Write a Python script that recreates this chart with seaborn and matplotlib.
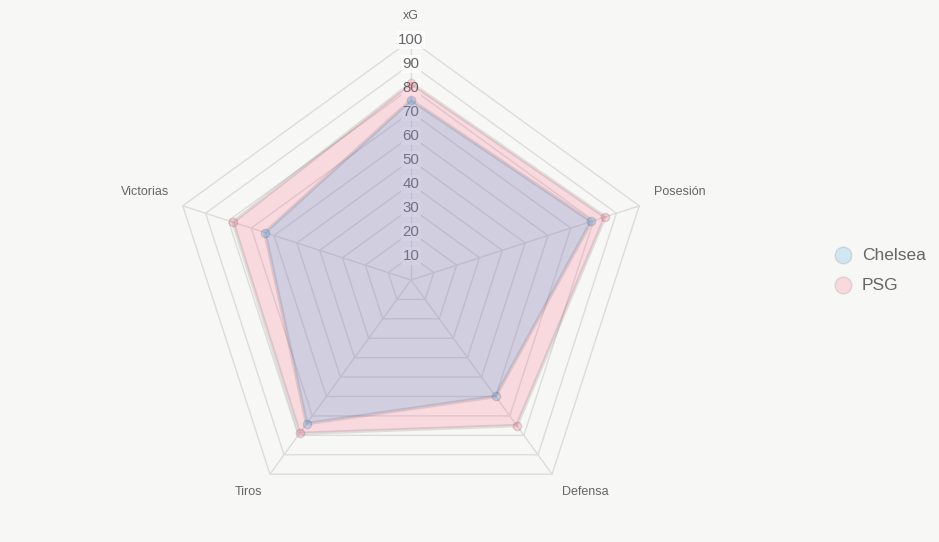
import numpy as np
import pandas as pd
import matplotlib
matplotlib.use("Agg")
import matplotlib.pyplot as plt
import matplotlib.transforms as mtransforms
from matplotlib.lines import Line2D
import seaborn as sns

# ---- data ----
categories = ["xG", "Posesión", "Defensa", "Tiros", "Victorias"]
chelsea = [75, 79, 60, 74, 64]
psg = [82, 85, 75, 79, 78]
teams = ["Chelsea", "PSG"]
ticks = [10, 20, 30, 40, 50, 60, 70, 80, 90, 100]

sns.set_style("white")
plt.rcParams["font.family"] = ["Liberation Sans", "DejaVu Sans"]

bg = "#f7f7f5"
grid_c = "#dcdcdc"
txt_c = "#666666"
blue = (54/255, 162/255, 235/255)
pink = (255/255, 99/255, 132/255)
fill_alpha = 0.2
edge_c = (0, 0, 0, 0.1)

fig = plt.figure(figsize=(9.39, 5.42), dpi=100, facecolor=bg)
ax = fig.add_axes([0.1821, 0.0406, 0.5112, 0.8856], projection="polar")
ax.set_theta_offset(np.pi / 2)
ax.set_theta_direction(-1)
ax.set_ylim(0, 100)
ax.set_axis_off()

n = len(categories)
angles = np.linspace(0, 2 * np.pi, n, endpoint=False)
closed = np.concatenate([angles, angles[:1]])

# grid pentagons
for v in ticks:
    ax.plot(closed, [v] * (n + 1), color=grid_c, lw=1, zorder=1, clip_on=False)
# angle lines
for a in angles:
    ax.plot([a, a], [0, 100], color=grid_c, lw=1, zorder=1, clip_on=False)

# tick labels with backdrop
for v in ticks:
    ax.text(0, v, str(v), ha="center", va="center", fontsize=10.8, color=txt_c,
            zorder=2, clip_on=False,
            bbox=dict(facecolor=(1, 1, 1, 0.75), edgecolor="none", pad=1.2))

# data areas (PSG below, Chelsea on top)
df = pd.DataFrame({
    "team": np.repeat(teams, n),
    "theta": np.tile(angles, 2),
    "value": chelsea + psg,
})
for team, col, z in [("PSG", pink, 3), ("Chelsea", blue, 4)]:
    sub = df[df.team == team]
    th = np.concatenate([sub.theta.values, sub.theta.values[:1]])
    rv = np.concatenate([sub.value.values, sub.value.values[:1]])
    ax.fill(th, rv, color=col, alpha=fill_alpha, lw=0, zorder=z)
    ax.plot(th, rv, color=edge_c, lw=2.5, zorder=z)
    sns.scatterplot(x=sub.theta.values, y=sub.value.values, ax=ax,
                    color=col + (0.25,), edgecolor=(0, 0, 0, 0.12), linewidth=1,
                    s=36, zorder=z + 2, legend=False, clip_on=False)

ax.set_ylim(0, 100)

# point labels
offsets = {
    "xG": (0, 24, "center"),
    "Posesión": (15, 14, "left"),
    "Defensa": (10, -18, "left"),
    "Tiros": (-8, -18, "right"),
    "Victorias": (-14, 14, "right"),
}
for a, cat in zip(angles, categories):
    dx, dy, ha = offsets[cat]
    tr = mtransforms.offset_copy(ax.transData, fig=fig, x=dx * 0.72, y=dy * 0.72, units="points")
    ax.text(a, 100, cat, transform=tr, ha=ha, va="center", fontsize=9,
            color=txt_c, clip_on=False)

# legend
for label, col, ypx in [("Chelsea", blue, 255), ("PSG", pink, 285)]:
    yf = 1 - ypx / 542
    fig.add_artist(Line2D([843 / 939], [yf], marker="o", markersize=12,
                          markerfacecolor=col + (fill_alpha,),
                          markeredgecolor=(0, 0, 0, 0.1), markeredgewidth=1,
                          linestyle="none", transform=fig.transFigure))
    fig.text(862 / 939, yf, label, ha="left", va="center", fontsize=12.5, color=txt_c)

fig.savefig("out.png", dpi=100, facecolor=bg)
